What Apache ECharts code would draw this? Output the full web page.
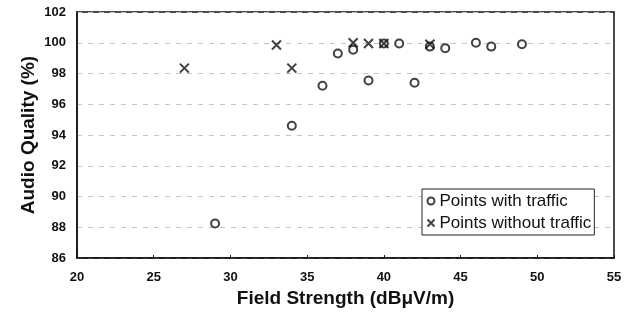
<!DOCTYPE html>
<html>
<head>
<meta charset="utf-8">
<script src="https://cdn.jsdelivr.net/npm/echarts@6/dist/echarts.min.js"></script>
<style>
  html, body { margin: 0; padding: 0; background: #fff; }
  #chart { width: 629px; height: 313px; }
</style>
</head>
<body>
<div id="chart"></div>
<script>
// field strength (dBuV/m) / audio quality (%)
var withTrafficX = [29, 34, 36, 37, 38, 39, 40, 41, 42, 43, 44, 46, 47, 49];
var withTrafficY = [88.25, 94.6, 97.2, 99.3, 99.55, 97.55, 99.95, 99.95, 97.4, 99.75, 99.65, 100, 99.75, 99.9];
var noTrafficX = [27, 33, 34, 38, 39, 40, 43];
var noTrafficY = [98.35, 99.85, 98.35, 100, 99.95, 99.95, 99.9];
var xTicks = [20, 25, 30, 35, 40, 45, 50, 55];
var yTicks = [86, 88, 90, 92, 94, 96, 98, 100, 102];

var crossPath = 'path://M0,0L10,10M10,0L0,10';
var font = 'Liberation Sans, Arial, sans-serif';

function pairs(xs, ys) {
  return xs.map(function (x, i) { return [x, ys[i]]; });
}

var chart = echarts.init(document.getElementById('chart'));
chart.setOption({
  backgroundColor: '#fff',
  animation: false,
  grid: {
    left: 77, right: 15, top: 12, bottom: 54,
    show: true, borderColor: '#111', borderWidth: 1.5
  },
  legend: {
    orient: 'vertical',
    left: 422, top: 189,
    padding: [2, 3, 2, 3],
    itemGap: 2,
    itemWidth: 7, itemHeight: 7,
    backgroundColor: '#fff',
    borderColor: '#222',
    borderWidth: 1,
    borderRadius: 0,
    textStyle: { fontFamily: font, fontSize: 17, color: '#111', lineHeight: 20 },
    data: [
      { name: 'Points with traffic', icon: 'circle' },
      { name: 'Points without traffic', icon: crossPath }
    ]
  },
  xAxis: {
    type: 'value',
    min: xTicks[0], max: xTicks[xTicks.length - 1], interval: 5,
    name: 'Field Strength (dBμV/m)',
    nameLocation: 'middle', nameGap: 30,
    nameTextStyle: { fontFamily: font, fontSize: 19, fontWeight: 'bold', color: '#111' },
    axisLine: { lineStyle: { color: '#111', width: 1.5 } },
    axisTick: { show: true, inside: true, length: 3, lineStyle: { color: '#111' } },
    axisLabel: { fontFamily: font, fontSize: 13, fontWeight: 'bold', color: '#111', margin: 13 },
    splitLine: { show: false }
  },
  yAxis: {
    type: 'value',
    min: yTicks[0], max: yTicks[yTicks.length - 1], interval: 2,
    name: 'Audio Quality (%)',
    nameLocation: 'middle', nameGap: 39, nameMoveOverlap: false,
    nameTextStyle: { fontFamily: font, fontSize: 19, fontWeight: 'bold', color: '#111' },
    axisLine: { show: true, lineStyle: { color: '#111', width: 1.5 } },
    axisTick: { show: false },
    axisLabel: { fontFamily: font, fontSize: 13, fontWeight: 'bold', color: '#111', margin: 11 },
    splitLine: { show: true, lineStyle: { color: '#c4c4c4', type: [5, 6], width: 1 } }
  },
  series: [
    {
      name: 'Points with traffic',
      type: 'scatter',
      symbol: 'circle',
      symbolSize: 8,
      itemStyle: { color: '#fff', borderColor: '#111', borderWidth: 2 },
      data: pairs(withTrafficX, withTrafficY)
    },
    {
      name: 'Points without traffic',
      type: 'scatter',
      symbol: crossPath,
      symbolSize: 9,
      itemStyle: { color: 'none', borderColor: '#111', borderWidth: 2 },
      data: pairs(noTrafficX, noTrafficY)
    }
  ]
});
</script>
</body>
</html>
